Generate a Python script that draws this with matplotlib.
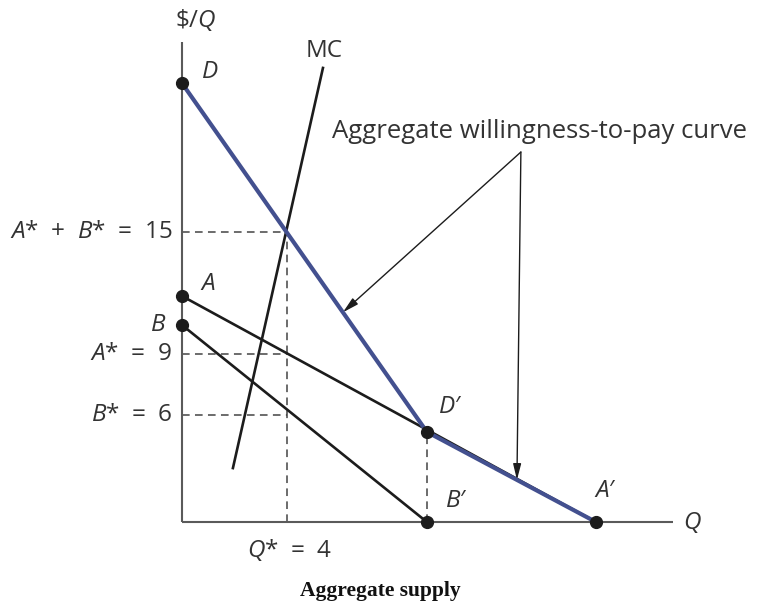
import numpy as np
import matplotlib
matplotlib.use("Agg")
import matplotlib.pyplot as plt

plt.rcParams['font.family'] = ['Open Sans', 'DejaVu Sans']
plt.rcParams['mathtext.fontset'] = 'custom'
plt.rcParams['mathtext.rm'] = 'Open Sans'
plt.rcParams['mathtext.it'] = 'Open Sans:italic'

# ---- data (quantity Q, price $/Q) ----
q_A = [0.0, 15.77]          # consumer A willingness-to-pay
p_A = [11.69, 0.0]
q_B = [0.0, 9.33]           # consumer B willingness-to-pay
p_B = [10.19, 0.0]
q_D = [0.0, 9.33, 15.77]    # aggregate willingness-to-pay (D, D', A')
p_D = [22.7, 4.66, 0.0]
q_MC = [1.94, 5.37]         # marginal cost
p_MC = [2.79, 23.49]
Q_star = 4.0
P_total = 15.0
A_star_level = 8.69
B_star_level = 5.53
x_axis_end = 18.7
y_axis_end = 24.83

label_total = "$A$*  +  $B$*  =  15"
label_A = "$A$*  =  9"
label_B = "$B$*  =  6"
label_Q = "$Q$*  =  4"

BLUE = '#43508f'
BLACK = '#1c1c1c'
GREY = '#5a5a5a'
TXT = '#333333'

fig = plt.figure(figsize=(7.57, 6.06), dpi=100)
ax = fig.add_axes([0, 0, 1, 1])
ax.set_xlim(-6.933, 21.905)
ax.set_ylim(-4.345, 27.005)
ax.axis('off')

# axes
ax.plot([0, 0], [0, y_axis_end], color=GREY, lw=1.5, solid_capstyle='butt', zorder=2)
ax.plot([0, x_axis_end], [0, 0], color=GREY, lw=1.5, solid_capstyle='butt', zorder=2)

# dashed guides
dash = dict(color='#444444', lw=1.1, ls=(0, (5, 3.5)), zorder=1)
ax.plot([0, Q_star], [P_total, P_total], **dash)
ax.plot([0, Q_star], [A_star_level, A_star_level], **dash)
ax.plot([0, Q_star], [B_star_level, B_star_level], **dash)
ax.plot([Q_star, Q_star], [0, P_total], **dash)
ax.plot([q_D[1], q_D[1]], [0, p_D[1]], **dash)

# curves
ax.plot(q_A, p_A, color=BLACK, lw=1.9, zorder=3)
ax.plot(q_B, p_B, color=BLACK, lw=1.9, zorder=3)
ax.plot(q_MC, p_MC, color=BLACK, lw=1.9, zorder=3)
ax.plot(q_D, p_D, color=BLUE, lw=3.0, zorder=4)

# points
pts_q = [q_D[0], q_A[0], q_B[0], q_D[1], q_B[1], q_A[1]]
pts_p = [p_D[0], p_A[0], p_B[0], p_D[1], p_B[1], p_A[1]]
ax.plot(pts_q, pts_p, 'o', color=BLACK, ms=8.5, zorder=5)

fs = 17.5
# point labels
ax.annotate("$D$", (q_D[0], p_D[0]), xytext=(20, 8), textcoords='offset points',
            fontsize=fs, color=TXT, ha='center', va='center')
ax.annotate("$A$", (q_A[0], p_A[0]), xytext=(19, 9), textcoords='offset points',
            fontsize=fs, color=TXT, ha='center', va='center')
ax.annotate("$B$", (q_B[0], p_B[0]), xytext=(-17, 0), textcoords='offset points',
            fontsize=fs, color=TXT, ha='center', va='center')
ax.annotate("$D$′", (q_D[1], p_D[1]), xytext=(17, 18), textcoords='offset points',
            fontsize=fs, color=TXT, ha='center', va='center')
ax.annotate("$B$′", (q_B[1], p_B[1]), xytext=(21, 15), textcoords='offset points',
            fontsize=fs, color=TXT, ha='center', va='center')
ax.annotate("$A$′", (q_A[1], p_A[1]), xytext=(7, 22), textcoords='offset points',
            fontsize=fs, color=TXT, ha='center', va='center')
ax.annotate("MC", (q_MC[1], p_MC[1]), xytext=(1, 12), textcoords='offset points',
            fontsize=fs, color=TXT, ha='center', va='center')

# axis labels
ax.annotate(r"$\$/Q$", (0, y_axis_end), xytext=(10, 16), textcoords='offset points',
            fontsize=fs, color=TXT, ha='center', va='center')
ax.annotate("$Q$", (x_axis_end, 0), xytext=(14, 0), textcoords='offset points',
            fontsize=fs, color=TXT, ha='center', va='center')

# value labels
for lvl, lab in [(P_total, label_total), (A_star_level, label_A), (B_star_level, label_B)]:
    ax.annotate(lab, (0, lvl), xytext=(-7, 0), textcoords='offset points',
                fontsize=fs, color=TXT, ha='right', va='center')
ax.annotate(label_Q, (Q_star, 0), xytext=(2, -20), textcoords='offset points',
            fontsize=fs, color=TXT, ha='center', va='center')

# callout
apex = (12.91, 19.14)
ax.text(apex[0] + 0.72, apex[1] + 1.04, "Aggregate willingness-to-pay curve",
        fontsize=18.5, color=TXT, ha='center', va='center')
tip1_q = 6.13
tip2_q = 12.76
for tq in (tip1_q, tip2_q):
    tp = float(np.interp(tq, q_D, p_D))
    ax.annotate("", xy=(tq, tp), xytext=apex,
                arrowprops=dict(arrowstyle='-|>,head_length=0.6,head_width=0.15',
                                color=BLACK, lw=1.0,
                                mutation_scale=16, shrinkA=0, shrinkB=0))

# caption
fig.text(380 / 757, 1 - 591 / 606, "Aggregate supply", fontsize=15.5, fontweight='bold',
         family='Liberation Serif', color='#111111', ha='center', va='center')

fig.savefig("out.png", dpi=100, facecolor='white')
